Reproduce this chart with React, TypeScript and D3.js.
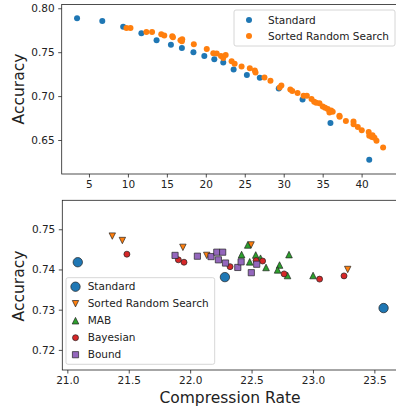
import React, { useEffect, useRef } from 'react';
import * as d3 from 'd3';

// top panel: accuracy vs compression rate
const topStandard: [number, number][] = [
  [3.47, 0.7886], [6.71, 0.7856], [9.39, 0.7791], [11.73, 0.7716], [13.68, 0.7636],
  [15.52, 0.7586], [16.93, 0.7549], [18.41, 0.75], [19.81, 0.7458], [21.09, 0.742],
  [22.24, 0.7382], [23.57, 0.7302], [25.27, 0.7239], [26.93, 0.7208], [29.36, 0.7086],
  [32.42, 0.6961], [36.0, 0.6693], [40.98, 0.6276],
];
const topSorted: [number, number][] = [
  [9.81, 0.7776], [10.33, 0.7776], [12.37, 0.7731], [13.10, 0.7731], [14.28, 0.7705],
  [14.67, 0.7689], [15.69, 0.7682], [15.78, 0.7670], [16.75, 0.7636], [16.97, 0.7648],
  [16.93, 0.7625], [18.46, 0.7591], [20.12, 0.7537], [20.96, 0.7489], [21.40, 0.7484],
  [21.95, 0.7458], [22.24, 0.7435], [22.55, 0.7469], [23.31, 0.7398], [23.70, 0.7367],
  [24.59, 0.7336], [25.65, 0.7318], [26.29, 0.7291], [26.38, 0.7268], [27.53, 0.7211],
  [28.30, 0.7174], [29.70, 0.7120], [29.48, 0.7098], [30.85, 0.7075], [31.10, 0.7057],
  [31.78, 0.7034], [32.55, 0.7003], [32.97, 0.7003], [33.57, 0.6966], [33.91, 0.6935],
  [34.17, 0.6924], [34.59, 0.6920], [35.01, 0.6882], [35.32, 0.6867], [35.65, 0.6852],
  [36.09, 0.6836], [36.29, 0.6822], [35.87, 0.6814], [37.15, 0.6776], [37.18, 0.6765],
  [37.98, 0.6716], [38.96, 0.6710], [38.97, 0.6680], [39.51, 0.6649], [40.02, 0.6612],
  [40.91, 0.6592], [40.98, 0.6549], [41.32, 0.6534], [41.40, 0.6555], [41.65, 0.6526],
  [41.91, 0.6492], [42.76, 0.6416],
];

// bottom panel: zoom around 21-23.6
const botStandard: [number, number][] = [[21.085, 0.7418], [22.283, 0.7381], [23.575, 0.7304]];
const botSorted: [number, number][] = [
  [21.366, 0.7483], [21.448, 0.7472], [21.941, 0.7455], [22.135, 0.7435], [22.496, 0.7461], [23.283, 0.74],
];
const botMAB: [number, number][] = [
  [22.469, 0.7461], [22.419, 0.7437], [22.534, 0.7436], [22.485, 0.7419], [22.573, 0.7428],
  [22.618, 0.7405], [22.728, 0.7411], [22.712, 0.7399], [22.793, 0.7385], [22.805, 0.7437], [23.001, 0.7385],
];
const botBayesian: [number, number][] = [
  [21.485, 0.7438], [21.904, 0.7424], [21.95, 0.7418], [22.325, 0.7407], [22.537, 0.7422],
  [22.59, 0.7421], [22.765, 0.7389], [23.054, 0.7376], [23.253, 0.7384],
];
const botBound: [number, number][] = [
  [21.877, 0.7435], [22.059, 0.7433], [22.17, 0.7432], [22.217, 0.7443], [22.265, 0.7443],
  [22.23, 0.7424], [22.288, 0.7416], [22.388, 0.7405], [22.415, 0.7419], [22.498, 0.7392], [22.542, 0.7413],
];

const topXTicks = [5, 10, 15, 20, 25, 30, 35, 40];
const topYTicks = [0.65, 0.7, 0.75, 0.8];
const botXTicks = [21.0, 21.5, 22.0, 22.5, 23.0, 23.5];
const botYTicks = [0.72, 0.73, 0.74, 0.75];

const BLUE = '#1f77b4', ORANGE = '#ff7f0e', GREEN = '#2ca02c', RED = '#d62728', PURPLE = '#9467bd';
const FONT = 'DejaVu Sans, sans-serif';

const shapePath = (shape: string, s: number) => {
  if (shape === 'up') return `M0,${-s}L${s},${s}L${-s},${s}Z`;
  if (shape === 'down') return `M0,${s}L${s},${-s}L${-s},${-s}Z`;
  if (shape === 'square') return `M${-s},${-s}L${s},${-s}L${s},${s}L${-s},${s}Z`;
  return d3.arc()({ innerRadius: 0, outerRadius: s, startAngle: 0, endAngle: 2 * Math.PI }) as string;
};

const App = () => {
  const ref = useRef<SVGSVGElement>(null);

  useEffect(() => {
    const svg = d3.select(ref.current);
    svg.selectAll('*').remove();

    const drawAxes = (x: any, y: any, xt: number[], yt: number[], xf: string, yf: string) => {
      const [x0, x1] = x.range();
      const [y0, y1] = y.range();
      const g = svg.append('g');
      g.append('g')
        .attr('transform', `translate(0,${y0})`)
        .call(d3.axisBottom(x).tickValues(xt).tickFormat(d3.format(xf)).tickSize(3.5).tickPadding(3.5).tickSizeOuter(0))
        .call(a => a.select('.domain').remove());
      g.append('g')
        .attr('transform', `translate(${x0},0)`)
        .call(d3.axisLeft(y).tickValues(yt).tickFormat(d3.format(yf)).tickSize(3.5).tickPadding(3.5).tickSizeOuter(0))
        .call(a => a.select('.domain').remove());
      g.selectAll('.tick text').attr('font-family', FONT).attr('font-size', 10.5).attr('fill', '#222');
      g.selectAll('.tick line').attr('stroke', '#222').attr('stroke-width', 0.8);
      g.append('rect')
        .attr('x', x0).attr('y', y1)
        .attr('width', x1 - x0).attr('height', y0 - y1)
        .attr('fill', 'none').attr('stroke', '#222').attr('stroke-width', 0.8);
    };

    // ---- top panel
    const xT = d3.scaleLinear().domain([1.5, 44.8]).range([61.7, 399]);
    const yT = d3.scaleLinear().domain([0.6113, 0.8043]).range([174, 4.5]);

    svg.append('g').selectAll('circle').data(topStandard).join('circle')
      .attr('cx', d => xT(d[0])).attr('cy', d => yT(d[1])).attr('r', 3).attr('fill', BLUE);
    svg.append('g').selectAll('circle').data(topSorted).join('circle')
      .attr('cx', d => xT(d[0])).attr('cy', d => yT(d[1])).attr('r', 3).attr('fill', ORANGE);
    drawAxes(xT, yT, topXTicks, topYTicks, 'd', '.2f');

    const lt = svg.append('g');
    lt.append('rect').attr('x', 234).attr('y', 10).attr('width', 161).attr('height', 36).attr('rx', 2)
      .attr('fill', 'white').attr('fill-opacity', 0.8).attr('stroke', '#cccccc').attr('stroke-width', 0.8);
    [['Standard', BLUE], ['Sorted Random Search', ORANGE]].forEach(([name, c], i) => {
      lt.append('circle').attr('cx', 249).attr('cy', 20 + i * 16).attr('r', 3).attr('fill', c);
      lt.append('text').attr('x', 268).attr('y', 20 + i * 16).attr('dy', '0.35em')
        .attr('font-family', FONT).attr('font-size', 10.5).attr('fill', '#222').text(name);
    });

    svg.append('text').attr('transform', 'translate(19,89) rotate(-90)').attr('text-anchor', 'middle')
      .attr('dy', '0.35em').attr('font-family', FONT).attr('font-size', 15.5).attr('fill', '#222').text('Accuracy');

    // ---- bottom panel
    const xB = d3.scaleLinear().domain([20.959, 23.69]).range([62.3, 397.7]);
    const yB = d3.scaleLinear().domain([0.715, 0.7572]).range([370, 200.3]);

    const series = [
      { name: 'Standard', data: botStandard, color: BLUE, shape: 'circle', s: 4.7 },
      { name: 'Sorted Random Search', data: botSorted, color: ORANGE, shape: 'down', s: 3.2 },
      { name: 'MAB', data: botMAB, color: GREEN, shape: 'up', s: 3.3 },
      { name: 'Bayesian', data: botBayesian, color: RED, shape: 'circle', s: 3 },
      { name: 'Bound', data: botBound, color: PURPLE, shape: 'square', s: 3.1 },
    ];
    series.forEach(sr => {
      svg.append('g').selectAll('path').data(sr.data).join('path')
        .attr('d', shapePath(sr.shape, sr.s))
        .attr('transform', d => `translate(${xB(d[0])},${yB(d[1])})`)
        .attr('fill', sr.color).attr('stroke', '#222').attr('stroke-width', 0.7);
    });
    drawAxes(xB, yB, botXTicks, botYTicks, '.1f', '.2f');

    const lb = svg.append('g');
    lb.append('rect').attr('x', 66).attr('y', 277.7).attr('width', 148.7).attr('height', 86.6).attr('rx', 2)
      .attr('fill', 'white').attr('fill-opacity', 0.8).attr('stroke', '#cccccc').attr('stroke-width', 0.8);
    series.forEach((sr, i) => {
      const cy = 286.7 + i * 17;
      lb.append('path').attr('d', shapePath(sr.shape, sr.s)).attr('transform', `translate(75.5,${cy})`)
        .attr('fill', sr.color).attr('stroke', '#222').attr('stroke-width', 0.7);
      lb.append('text').attr('x', 87.7).attr('y', cy).attr('dy', '0.35em')
        .attr('font-family', FONT).attr('font-size', 10.5).attr('fill', '#222').text(sr.name);
    });

    svg.append('text').attr('transform', 'translate(19,286) rotate(-90)').attr('text-anchor', 'middle')
      .attr('dy', '0.35em').attr('font-family', FONT).attr('font-size', 15.5).attr('fill', '#222').text('Accuracy');
    svg.append('text').attr('x', 230).attr('y', 397.5).attr('text-anchor', 'middle').attr('dy', '0.35em')
      .attr('font-family', FONT).attr('font-size', 15.5).attr('fill', '#222').text('Compression Rate');
  }, []);

  return (
    <svg ref={ref} width={396} height={409}
      style={{ position: 'absolute', left: 0, top: 0, background: 'white', overflow: 'hidden' }} />
  );
};

export default App;
